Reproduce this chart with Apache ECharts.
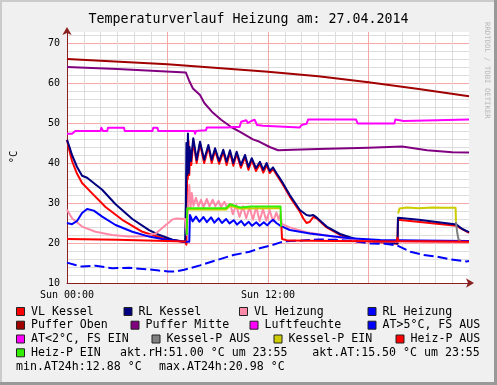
<!DOCTYPE html>
<html><head><meta charset="utf-8">
<script src="https://cdn.jsdelivr.net/npm/echarts@6/dist/echarts.min.js"></script>
<style>html,body{margin:0;padding:0;background:#F0F0F0}#c{width:497px;height:385px}</style>
</head><body><div id="c"></div>
<script>
// ---------- data (hours since Sun 00:00, °C) ----------
const titleText = 'Temperaturverlauf Heizung am: 27.04.2014';
const xTickLabels = {0: 'Sun 00:00', 12: 'Sun 12:00'};
const yLabelTicks = [10, 20, 30, 40, 50, 60, 70];

const vlKessel = [[0,45.8],[0.15,43],[0.3,40.5],[0.6,37.3],[0.9,35],[1.5,32.4],[2.3,29],[3.3,25.8],[4.5,22.8],[5.7,21.2],[7.05,20.2],[7.13,19.6],
 [7.15,28],[7.18,43],[7.21,36],[7.25,45.5],[7.3,37],[7.35,43],[7.42,39.5],[7.54,45.5],[7.74,40],[7.94,44.8],[8.19,40],[8.44,44],[8.64,40],[8.84,43.2],[9.08,39.8],[9.33,42.8],[9.53,39.5],[9.73,42.7],[9.93,39.3],[10.13,42.3],[10.38,38.8],[10.63,41.5],[10.83,38.3],[11.03,40.7],[11.28,38],[11.52,39.8],[11.72,37.6],[11.92,39.5],[12.1,37.5],[12.3,38.5],[12.52,37],[12.9,34.5],[13.3,31.6],[13.9,27.8],[14.1,26.2],[14.3,25],[14.5,25.3],[14.7,26.5],[14.9,26.2],[15.5,23.9],[16.3,22],[17.3,20.7],[18.7,20.2],[19.73,19.8],[19.76,25.8],[23.25,24.3],[24,22.5]];
const rlKessel = [[0,45.8],[0.15,44],[0.3,42],[0.6,39],[0.9,36.8],[1.2,36.3],[1.5,35.3],[2.1,33.3],[2.9,29.7],[3.9,26],[4.9,23.2],[5.4,22.2],[6.3,20.8],[7.05,20.3],
 [7.1,30],[7.13,45],[7.17,37],[7.22,47.4],[7.27,37.5],[7.32,44],[7.4,40.5],[7.54,46.2],[7.74,40.8],[7.94,45.3],[8.19,40.8],[8.44,44.5],[8.64,40.8],[8.84,43.7],[9.08,40.5],[9.33,43.3],[9.53,40.3],[9.73,43.2],[9.93,40],[10.13,42.8],[10.38,39.5],[10.63,42],[10.83,39],[11.03,41.2],[11.28,38.7],[11.52,40.3],[11.72,38.3],[11.92,40],[12.1,38],[12.3,38.9],[12.52,37.4],[12.9,34.9],[13.3,32],[13.9,28.25],[14.3,27],[14.5,26.8],[14.7,27],[14.9,26.4],[15.5,24.1],[16.3,22.25],[17.3,20.9],[18.7,20.3],[19.73,19.9],[19.76,26.3],[21,25.8],[23.25,24.6],[23.6,23.5],[24,22.7]];
const vlHeizung = [[0,28.3],[0.3,26.2],[0.9,24.1],[1.7,22.8],[2.7,22],[3.7,21.6],[4.7,21.7],[5.3,22.4],[5.9,24.5],[6.3,25.9],[6.5,26.1],[7.05,26],[7.15,22],[7.2,27],[7.3,34.5],[7.38,29],[7.45,32.5],[7.55,29.3],[7.7,31.3],[7.85,29.2],[8.0,30.8],[8.15,29],[8.35,31],[8.5,29.2],[8.7,30.8],[8.85,29.2],[9.05,30.5],[9.2,29],[9.4,30.3],[9.55,28.9],[9.75,29.8],[9.9,27.2],[10.1,29.5],[10.3,26.5],[10.5,29.2],[10.7,26.2],[10.9,29],[11.1,25.8],[11.3,29],[11.5,25.5],[11.7,28.5],[11.9,25.6],[12.1,28.2],[12.3,25.4],[12.5,27.6],[12.65,25.8],[12.75,27.4],[12.82,24.8],[13.3,23.9],[14.3,22.7],[15.3,22],[16.3,21.4],[17.3,20.9],[18.5,20.4],[24,20.2]];
const rlHeizung = [[0,25],[0.3,24.7],[0.6,25.5],[0.9,27.5],[1.2,28.5],[1.6,28.1],[2.1,26.6],[2.9,24.5],[3.9,22.8],[4.9,21.6],[5.9,20.8],[7.05,20.3],[7.3,20.3],[7.34,27],[7.5,25.4],[7.7,26.6],[7.9,25.3],[8.15,26.5],[8.35,25.2],[8.6,26.4],[8.8,25.1],[9.05,26.2],[9.25,25],[9.5,26],[9.7,24.9],[9.95,25.7],[10.15,24.6],[10.4,25.5],[10.6,24.4],[10.85,25.3],[11.05,24.3],[11.3,25.2],[11.5,24.3],[11.75,25.2],[11.95,24.4],[12.15,25.3],[12.3,25.8],[12.5,25],[12.75,24.3],[12.82,24.1],[13.3,23.25],[14.5,22.4],[15.7,21.75],[16.9,21.2],[18.7,20.75],[21,20.6],[24,20.5]];
const pufferOben = [[0,66],[6,64.7],[12,62.8],[15,61.7],[18,60.2],[21,58.5],[24,56.7]];
const pufferMitte = [[0,64],[3,63.5],[7.1,62.6],[7.3,60.5],[7.52,58.6],[7.94,57],[8.2,55],[8.7,52.6],[9.2,50.8],[9.8,49],[10.33,47.8],[11.1,45.9],[11.5,45.3],[12.1,44],[12.6,43.2],[13.5,43.3],[15,43.5],[18,43.8],[20,44.1],[21.5,43.2],[23,42.7],[24,42.6]];
const luftfeuchte = [[0,47.3],[0.3,47.3],[0.35,47.8],[0.5,48],[2.0,48],[2.05,48.8],[2.15,48],[2.4,48],[2.45,48.8],[3.4,48.8],[3.45,48],[5.1,48],[5.15,48.8],[5.4,48.8],[5.45,48],[7.6,48],[7.65,47.3],[7.7,48],[8.3,48.2],[8.35,48.9],[9.6,48.9],[9.7,48.5],[9.9,49],[10.3,49],[10.4,50.3],[10.7,50.7],[10.8,50],[11.0,50.5],[11.2,50.8],[11.35,49.5],[11.7,49.3],[11.8,48.9],[13.9,48.9],[14.0,49.5],[14.3,49.8],[14.4,50.9],[17.25,50.9],[17.35,49.9],[19.55,49.9],[19.6,50.9],[20.1,50.5],[20.2,50.9],[24,50.9]];
const atWarm = [[0,15.1],[0.5,14.5],[0.9,14.1],[1.7,14.3],[2.7,13.7],[3.7,13.8],[4.9,13.4],[5.5,13.1],[6.07,12.9],[6.5,12.9],[7.0,13.3],[7.94,14.4],[9,15.8],[9.93,17],[10.9,17.8],[11.5,18.7],[12.2,19.4],[12.7,20.1],[13.0,20.4],[14,20.6],[15,20.9],[16,20.8],[17,20.5],[18.1,19.9],[19.0,19.8],[19.7,19.4],[20.5,17.8],[21.3,17],[22.1,16.6],[22.9,15.9],[23.86,15.4],[24,15.5]];
const atCold = [];
const kesselPAus = [[23.22,25.3],[23.3,22.5],[23.38,20.8],[23.5,20.6]];
const kesselPEin = [[7.2,28.4],[9.5,28.4],[9.75,29.3],[10.3,28.6],[12.74,28.7],[12.75,'-'],[19.77,27.4],[19.85,28.6],[20.3,28.9],[21,28.7],[21.8,28.9],[22.5,28.8],[23.2,28.8],[23.22,25.3]];
const heizPAus = [[0,21],[3,20.8],[7.1,20.4],[7.12,'-'],[12.8,24.1],[12.84,21],[13.2,20.6],[16,20.5],[19.7,20.4],[19.72,21.3],[19.8,20.5],[24,20.3]];
const heizPEin = [[7.15,22],[7.18,28.7],[9.5,28.7],[9.73,29.7],[10.0,29.3],[10.33,28.9],[11,29.1],[12.75,29.1],[12.78,24.1]];

const seriesNames = ['VL Kessel','RL Kessel','VL Heizung','RL Heizung','Puffer Oben','Puffer Mitte','Luftfeuchte','AT>5°C, FS AUS','AT<2°C, FS EIN','Kessel-P AUS','Kessel-P EIN','Heiz-P AUS','Heiz-P EIN'];
const seriesData = [vlKessel, rlKessel, vlHeizung, rlHeizung, pufferOben, pufferMitte, luftfeuchte, atWarm, atCold, kesselPAus, kesselPEin, heizPAus, heizPEin];
const statTexts = ['akt.rH:51.00 °C um 23:55', 'akt.AT:15.50 °C um 23:55', 'min.AT24h:12.88 °C', 'max.AT24h:20.98 °C'];

// ---------- styles / layout ----------
const seriesColors = ['#FF0000','#000080','#FF8AA8','#0000FF','#A00000','#800080','#FF00FF','#0000FF','#FF00FF','#808080','#CCCC00','#FF0000','#33EE00'];
const FONT = '"DejaVu Sans Mono", monospace';
const legendLayout = [ // [seriesIndex, textX, rowY]
  [0,31,311.5],[1,138.5,311.5],[2,254,311.5],[3,382.5,311.5],
  [4,31,325.2],[5,145.5,325.2],[6,264.5,325.2],[7,382.5,325.2],
  [8,31,339],[9,166.5,339],[10,288.5,339],[11,410.5,339],
  [12,31,352.8]
];
const statLayout = [[120,352.8],[312.3,352.8],[16,366.6],[159,366.6]];

const chart = echarts.init(document.getElementById('c'), null, {renderer:'canvas', width:497, height:385});

const graphics = [
  {type:'rect', shape:{x:0,y:0,width:497,height:2}, style:{fill:'#CBCBCB'}, silent:true},
  {type:'rect', shape:{x:0,y:0,width:2,height:385}, style:{fill:'#CBCBCB'}, silent:true},
  {type:'rect', shape:{x:0,y:382,width:497,height:3}, style:{fill:'#999999'}, silent:true},
  {type:'rect', shape:{x:494,y:0,width:3,height:385}, style:{fill:'#999999'}, silent:true},
  {type:'text', x:14, y:157, rotation:Math.PI/2, silent:true,
   style:{text:'°C', fill:'#000', font:'10.5px ' + FONT, align:'center', verticalAlign:'middle'}},
  {type:'text', x:487, y:22, rotation:-Math.PI/2, silent:true,
   style:{text:'RRDTOOL / TOBI OETIKER', fill:'#B8B8B8', font:'7.3px ' + FONT, align:'left', verticalAlign:'middle'}}
];
legendLayout.forEach(([si, tx, ry]) => {
  graphics.push({type:'rect', shape:{x:tx-14.5, y:ry-4, width:8, height:8}, style:{fill:seriesColors[si], stroke:'#222', lineWidth:1}, silent:true});
  graphics.push({type:'text', x:tx, y:ry, silent:true, style:{text:seriesNames[si], fill:'#000', font:'11.6px ' + FONT, align:'left', verticalAlign:'middle'}});
});
statLayout.forEach(([tx, ry], i) => {
  graphics.push({type:'text', x:tx, y:ry, silent:true, style:{text:statTexts[i], fill:'#000', font:'11.6px ' + FONT, align:'left', verticalAlign:'middle'}});
});

const minorGrid = '#DDDDDD', majorGrid = '#F4A8A8', axisColor = '#8B2020';

const option = {
  animation:false,
  backgroundColor:'#F0F0F0',
  title:{text:titleText, left:'center', top:8, textStyle:{fontFamily:FONT, fontSize:13.3, fontWeight:'normal', color:'#000'}},
  grid:{left:67, right:28, top:32, bottom:102, show:true, backgroundColor:'#FFFFFF', borderWidth:0, containLabel:false, outerBoundsMode:'none'},
  xAxis:[
    {type:'value', min:0, max:24, interval:1, axisLine:{show:false, onZero:false}, axisTick:{show:false}, axisLabel:{show:false},
     splitLine:{show:true, showMaxLine:false, lineStyle:{color:minorGrid, width:1}}},
    {type:'value', min:0, max:24, interval:6, position:'bottom',
     axisLine:{show:true, onZero:false, lineStyle:{color:axisColor, width:1}, symbol:['none','arrow'], symbolSize:[7,8], symbolOffset:[0,5]},
     axisTick:{show:false},
     axisLabel:{formatter:v => xTickLabels[v] || '', fontFamily:FONT, fontSize:10, color:'#000', margin:7, showMinLabel:true, showMaxLabel:false},
     splitLine:{show:true, showMinLine:false, showMaxLine:false, lineStyle:{color:majorGrid, width:1}}}
  ],
  yAxis:[
    {type:'value', min:10, max:72.75, interval:2, position:'left', axisLine:{show:false, onZero:false}, axisTick:{show:false}, axisLabel:{show:false},
     splitLine:{show:true, showMaxLine:false, lineStyle:{color:minorGrid, width:1}}},
    {type:'value', min:10, max:72.75, interval:10, position:'left',
     axisLine:{show:true, onZero:false, lineStyle:{color:axisColor, width:1}, symbol:['none','arrow'], symbolSize:[7,8], symbolOffset:[0,5]},
     axisTick:{show:false},
     axisLabel:{formatter:v => (yLabelTicks.indexOf(v) >= 0 ? String(v) : ''), fontFamily:FONT, fontSize:10, color:'#000', margin:7, showMaxLabel:false},
     splitLine:{show:true, showMinLine:false, showMaxLine:false, lineStyle:{color:majorGrid, width:1}}}
  ],
  series: seriesNames.map((name, i) => ({
    type:'line', name, data:seriesData[i], xAxisIndex:0, yAxisIndex:0,
    showSymbol:false, symbol:'none', silent:true, connectNulls:false, clip:true,
    lineStyle:{color:seriesColors[i], width:2, join:'round', type: i === 7 ? [10,4] : 'solid'},
    itemStyle:{color:seriesColors[i]},
    emphasis:{disabled:true}, z:3
  })),
  graphic:graphics
};
chart.setOption(option);
</script>
</body></html>
